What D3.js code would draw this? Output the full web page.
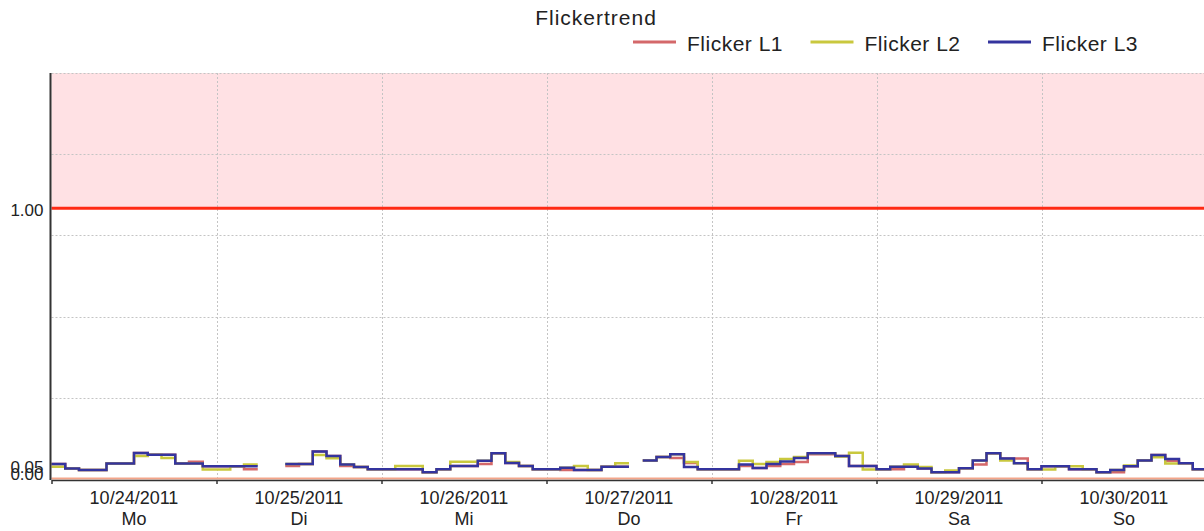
<!DOCTYPE html>
<html>
<head>
<meta charset="utf-8">
<title>Flickertrend</title>
<script src="https://cdn.jsdelivr.net/npm/d3@7"></script>
<style>
  body { margin: 0; background: #fff; }
  svg { display: block; font-family: "Liberation Sans", Arial, sans-serif; }
</style>
</head>
<body>
<div id="chart"></div>
<script>
"use strict";

// one value per 2 hours (12 per day), null = no measurement
const stepHours = 2;
const dayLabels = ["10/24/2011", "10/25/2011", "10/26/2011", "10/27/2011", "10/28/2011", "10/29/2011", "10/30/2011"];
const weekdays = ["Mo", "Di", "Mi", "Do", "Fr", "Sa", "So"];
const yTicks = [0, 0.05, 1.0];
const yGrid = [0.3, 0.6, 0.9, 1.2, 1.5];
const yMax = 1.5;
const limit = 1.0;

const flickerL1 = [
    .055, .039, .033, .033, .057, .057, .096, .090, .090, .057, .064, .047,
    .047, .047, .036, null, null, .048, .055, .102, .085, .048, .044, .036,
    .036, .036, .036, .025, .036, .048, .048, .055, .095, .059, .048, .036,
    .036, .033, .033, .033, .045, .045, null, .068, .081, .078, .059, .036,
    .036, .036, .048, .041, .048, .055, .063, .091, .091, .085, .048, .048,
    .036, .036, .045, .039, .025, .025, .040, .054, .095, .076, .076, .036,
    .047, .047, .036, .036, .025, .025, .047, .068, .089, .067, .058, .036
];
const flickerL2 = [
    .045, .039, .033, .033, .057, .057, .085, .090, .078, .057, .057, .035,
    .035, .047, .054, null, null, .055, .055, .089, .077, .054, .044, .036,
    .036, .048, .048, .025, .036, .064, .064, .067, .095, .063, .048, .036,
    .036, .042, .048, .033, .045, .058, null, .068, .081, .091, .063, .036,
    .036, .036, .067, .055, .063, .074, .081, .095, .095, .083, .097, .035,
    .036, .045, .054, .044, .025, .031, .040, .068, .095, .068, .058, .036,
    .035, .047, .047, .036, .025, .033, .050, .068, .080, .057, .058, .036
];
const flickerL3 = [
    .055, .039, .033, .033, .057, .057, .096, .090, .090, .057, .057, .047,
    .047, .047, .047, null, null, .055, .055, .102, .085, .054, .044, .036,
    .036, .036, .036, .025, .036, .048, .048, .067, .095, .059, .048, .036,
    .036, .042, .033, .033, .045, .045, null, .068, .081, .091, .044, .036,
    .036, .036, .054, .041, .055, .065, .078, .095, .095, .085, .048, .048,
    .036, .045, .045, .039, .025, .025, .040, .068, .095, .076, .058, .036,
    .047, .047, .036, .036, .025, .033, .047, .068, .089, .074, .058, .036
];

const seriesNames = ["Flicker L1", "Flicker L2", "Flicker L3"];
const seriesColors = ["#d4686a", "#c9c83e", "#34349e"];
const seriesValues = [flickerL1, flickerL2, flickerL3];

const width = 1204, height = 531;
const plot = { left: 51.5, top: 73, bottom: 479, dayWidth: 165 };

const svg = d3.select("#chart").append("svg")
    .attr("width", width)
    .attr("height", height);

const hours = dayLabels.length * 24;
const x = d3.scaleLinear().domain([0, hours]).range([plot.left, plot.left + plot.dayWidth * dayLabels.length]);
const y = d3.scaleLinear().domain([0, yMax]).range([plot.bottom, plot.top]);

// every value holds for its 2 hour slot; a run ends with an extra point so the last slot is drawn
function toSteps(values) {
    const pts = [];
    values.forEach((v, i) => {
        pts.push({ h: i * stepHours, v: v });
        if (v != null && (i === values.length - 1 || values[i + 1] == null)) {
            pts.push({ h: (i + 1) * stepHours, v: v });
        }
    });
    return pts;
}

// limit zone above 1.00
svg.append("rect")
    .attr("x", plot.left)
    .attr("y", y(yMax))
    .attr("width", width - plot.left)
    .attr("height", y(limit) - y(yMax))
    .attr("fill", "#ffe1e4");

// grid
svg.append("g")
    .selectAll("line")
    .data(yGrid)
    .join("line")
    .attr("x1", plot.left).attr("x2", width)
    .attr("y1", d => Math.round(y(d)) + 0.5).attr("y2", d => Math.round(y(d)) + 0.5)
    .attr("stroke", "#c4c4c4")
    .attr("stroke-dasharray", "2,2");

svg.append("g")
    .selectAll("line")
    .data(d3.range(24, hours + 1, 24))
    .join("line")
    .attr("x1", d => Math.round(x(d)) + 0.5).attr("x2", d => Math.round(x(d)) + 0.5)
    .attr("y1", y(yMax)).attr("y2", plot.bottom)
    .attr("stroke", "#c4c4c4")
    .attr("stroke-dasharray", "2,2");

// lower reference line at 0 and limit line at 1.00
svg.append("line")
    .attr("x1", plot.left).attr("x2", width)
    .attr("y1", y(0) - 0.5).attr("y2", y(0) - 0.5)
    .attr("stroke", "#f4a58a")
    .attr("stroke-width", 2);

svg.append("line")
    .attr("x1", plot.left).attr("x2", width)
    .attr("y1", y(limit)).attr("y2", y(limit))
    .attr("stroke", "#ff2a14")
    .attr("stroke-width", 3);

// series
const line = d3.line()
    .defined(d => d.v != null)
    .x(d => x(d.h))
    .y(d => y(d.v))
    .curve(d3.curveStepAfter);

svg.append("g")
    .selectAll("path")
    .data(seriesValues)
    .join("path")
    .attr("d", d => line(toSteps(d)))
    .attr("fill", "none")
    .attr("stroke", (d, i) => seriesColors[i])
    .attr("stroke-width", 2.5);

// x axis
const xAxis = svg.append("g")
    .attr("transform", `translate(0,${plot.bottom + 1})`)
    .call(d3.axisBottom(x).tickValues(d3.range(0, hours + 1, 24)).tickSize(4).tickSizeOuter(0).tickFormat(""));
xAxis.select(".domain").attr("stroke", "#333").attr("stroke-width", 1.5);
xAxis.selectAll(".tick line").attr("stroke", "#333").attr("stroke-width", 1.5);

svg.append("g")
    .selectAll("text")
    .data(dayLabels)
    .join("text")
    .attr("x", (d, i) => x(i * 24 + 12))
    .attr("y", 504)
    .attr("text-anchor", "middle")
    .attr("font-size", 18)
    .attr("fill", "#222")
    .text(d => d);

svg.append("g")
    .selectAll("text")
    .data(weekdays)
    .join("text")
    .attr("x", (d, i) => x(i * 24 + 12))
    .attr("y", 525)
    .attr("text-anchor", "middle")
    .attr("font-size", 18)
    .attr("fill", "#222")
    .text(d => d);

// y axis
const yAxis = svg.append("g")
    .attr("transform", `translate(${plot.left - 1},0)`)
    .call(d3.axisLeft(y).tickValues(yTicks).tickFormat(d3.format(".2f")).tickSize(0).tickPadding(7));
yAxis.select(".domain").remove();
yAxis.selectAll(".tick text")
    .attr("font-size", 17)
    .attr("font-family", "Liberation Sans, Arial, sans-serif")
    .attr("fill", "#222")
    .attr("dy", d => d === 0 ? "0.05em" : "0.42em");

svg.append("line")
    .attr("x1", plot.left - 1).attr("x2", plot.left - 1)
    .attr("y1", y(yMax)).attr("y2", plot.bottom + 1)
    .attr("stroke", "#333")
    .attr("stroke-width", 2);

// title and legend
svg.append("text")
    .attr("x", 596)
    .attr("y", 25)
    .attr("text-anchor", "middle")
    .attr("font-size", 21)
    .attr("letter-spacing", 1)
    .attr("fill", "#222")
    .text("Flickertrend");

const legend = svg.append("g")
    .selectAll("g")
    .data(seriesNames)
    .join("g")
    .attr("transform", (d, i) => `translate(${633 + i * 177.5},0)`);

legend.append("line")
    .attr("x1", 0).attr("x2", 43)
    .attr("y1", 42).attr("y2", 42)
    .attr("stroke", (d, i) => seriesColors[i])
    .attr("stroke-width", 3);

legend.append("text")
    .attr("x", 54)
    .attr("y", 51)
    .attr("font-size", 21)
    .attr("letter-spacing", 0.5)
    .attr("fill", "#222")
    .text(d => d);
</script>
</body>
</html>
